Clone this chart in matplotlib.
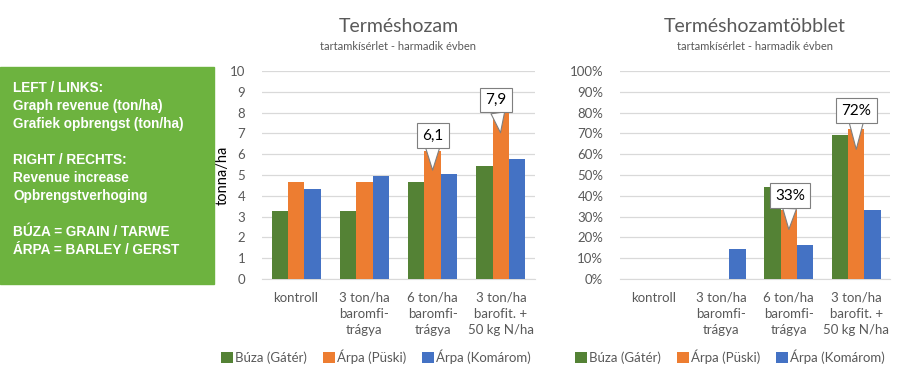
import matplotlib.pyplot as plt
import numpy as np

plt.rcParams['font.family'] = ['Lato', 'DejaVu Sans']

categories = ["kontroll", "3 ton/ha\nbaromfi-\ntrágya", "6 ton/ha\nbaromfi-\ntrágya",
              "3 ton/ha\nbarofit. +\n50 kg N/ha"]
series = ["Búza (Gátér)", "Árpa (Püski)", "Árpa (Komárom)"]
colors = ["#548235", "#ED7D31", "#4472C4"]

# yield, tonna/ha
yield_buza = [3.25, 3.25, 4.65, 5.45]
yield_puski = [4.65, 4.65, 6.15, 7.98]
yield_komarom = [4.35, 4.95, 5.05, 5.75]

# yield increase, %
incr_buza = [0, 0, 44, 69]
incr_puski = [0, 0, 33, 72]
incr_komarom = [0, 14.5, 16.5, 33]

W, H = 906, 383
fig = plt.figure(figsize=(W / 100, H / 100), dpi=100)

# green info box
fig.patches.append(plt.Rectangle((0, 1 - 284 / H), 214 / W, 217 / H,
                                 transform=fig.transFigure, color="#6DB33F"))
info = ["LEFT / LINKS:", "Graph revenue (ton/ha)", "Grafiek opbrengst (ton/ha)", "",
        "RIGHT / RECHTS:", "Revenue increase", "Opbrengstverhoging", "",
        "BÚZA = GRAIN / TARWE", "ÁRPA = BARLEY / GERST"]
for i, line in enumerate(info):
    fig.text(13 / W, 1 - (88 + i * 18) / H, line, color="white", fontsize=9.8,
             fontweight="bold", family="Liberation Sans", va="center")


def chart(x0, x1, data, ymax, step, pct, title, callouts, leg_cx, ylabel=None):
    ax = fig.add_axes([x0 / W, 1 - 279 / H, (x1 - x0) / W, 208 / H])
    x = np.arange(len(categories))
    bw = 0.24
    for i, (vals, name, c) in enumerate(zip(data, series, colors)):
        ax.bar(x + (i - 1) * bw, vals, bw, color=c, label=name, zorder=3)
    ax.set_xlim(-0.5, len(categories) - 0.5)
    ax.set_ylim(0, ymax)
    ticks = np.arange(0, ymax + step / 2, step)
    ax.set_yticks(ticks)
    if pct:
        ax.set_yticklabels([f"{int(t)}%" for t in ticks])
    ax.set_xticks(x)
    ax.set_xticklabels(categories, linespacing=1.4)
    ax.tick_params(length=0, labelsize=9.5, colors="#595959", pad=9)
    ax.tick_params(axis="y", pad=12)
    ax.grid(axis="y", color="#D9D9D9", lw=0.9, zorder=0)
    for s in ["top", "right", "left"]:
        ax.spines[s].set_visible(False)
    ax.spines["bottom"].set_color("#D9D9D9")
    if ylabel:
        ax.set_ylabel(ylabel, fontsize=10.5, color="black")
        ax.yaxis.set_label_coords((230 - x0) / (x1 - x0), 0.5)
    cx = (x0 + x1) / 2
    fig.text(cx / W, 1 - 27 / H, title, ha="center", va="center", fontsize=14, color="#595959")
    fig.text(cx / W, 1 - 46 / H, "tartamkísérlet - harmadik évben", ha="center", va="center",
             fontsize=8, color="#595959")
    for txt, tip, pos in callouts:
        ax.annotate(txt, xy=tip, xytext=pos, ha="center", va="center", fontsize=11,
                    bbox=dict(boxstyle="square,pad=0.35", fc="white", ec="#7F7F7F", lw=0.8),
                    arrowprops=dict(arrowstyle="wedge,tail_width=0.9,shrink_factor=0.5",
                                    fc="white", ec="#7F7F7F", lw=0.8, shrinkA=0),
                    zorder=5)
    ax.legend(loc="center", bbox_to_anchor=((leg_cx - x0) / (x1 - x0), -0.375), ncol=3,
              frameon=False, fontsize=9.5, handlelength=0.9, handleheight=0.9,
              handletextpad=0.15, columnspacing=1.2, labelcolor="#595959")
    return ax


chart(262, 535, [yield_buza, yield_puski, yield_komarom], 10, 1, False, "Terméshozam",
      [("6,1", (2, 5.1), (2, 6.9)), ("7,9", (3, 6.9), (2.93, 8.6))], 376, ylabel="tonna/ha")
chart(620, 890, [incr_buza, incr_puski, incr_komarom], 100, 10, True, "Terméshozamtöbblet",
      [("33%", (2, 22.5), (2.02, 40)), ("72%", (3, 61), (3.0, 81))], 730)

fig.savefig("out.png", dpi=100)
